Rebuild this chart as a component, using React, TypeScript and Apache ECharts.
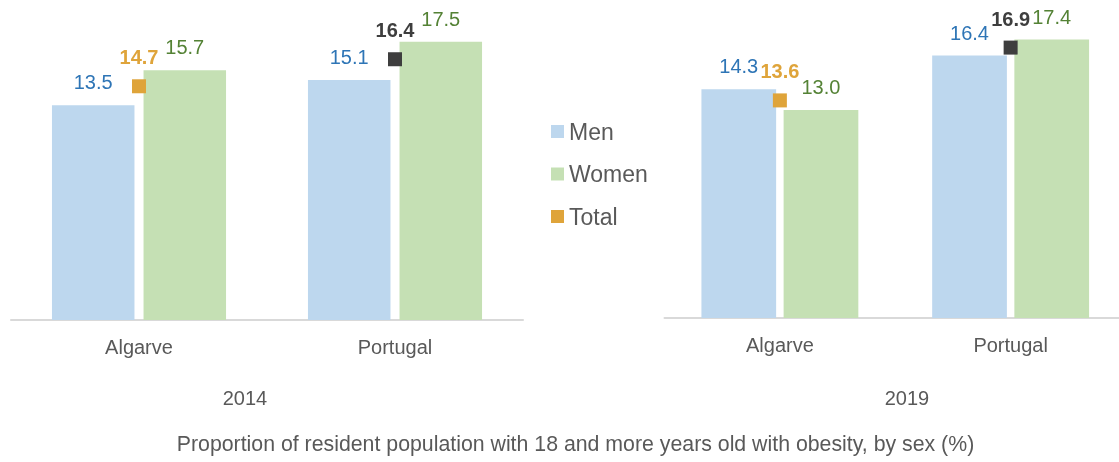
import React, { useEffect, useRef } from "react";
import * as echarts from "echarts";

const categories = ["Algarve", "Portugal"];
const years = ["2014", "2019"];
const men2014 = [13.5, 15.1];
const women2014 = [15.7, 17.5];
const total2014 = [14.7, 16.4];
const men2019 = [14.3, 16.4];
const women2019 = [13.0, 17.4];
const total2019 = [13.6, 16.9];
const seriesNames = ["Men", "Women", "Total"];
const chartTitle =
  "Proportion of resident population with 18 and more years old with obesity, by sex (%)";

const FONT = "'Liberation Sans', Arial, sans-serif";
const GRAY = "#595959";
const MEN_COLOR = "#BDD7EE";
const WOMEN_COLOR = "#C5E0B4";
const MEN_LABEL = "#2E75B6";
const WOMEN_LABEL = "#548235";
const TOTAL_COLORS = ["#DFA43A", "#3E3E3E"];

const fmt = (v: number) => Number(v).toFixed(1);

function App() {
  const ref = useRef<HTMLDivElement>(null);
  useEffect(() => {
    if (!ref.current) return;
    const chart = echarts.init(ref.current, null, { renderer: "svg" });

    const makeBars = (men: number[], women: number[], totals: number[], idx: number, gap: string) => [
      {
        name: seriesNames[0],
        type: "bar",
        xAxisIndex: idx,
        yAxisIndex: idx,
        data: men,
        barGap: gap,
        barCategoryGap: "32%",
        itemStyle: { color: MEN_COLOR },
        label: {
          show: true,
          position: "top",
          distance: 13,
          formatter: (p: any) => fmt(p.value),
          color: MEN_LABEL,
          fontSize: 20,
          fontFamily: FONT,
        },
      },
      {
        name: seriesNames[1],
        type: "bar",
        xAxisIndex: idx,
        yAxisIndex: idx,
        data: women,
        barGap: gap,
        barCategoryGap: "32%",
        itemStyle: { color: WOMEN_COLOR },
        label: {
          show: true,
          position: "top",
          distance: 13,
          formatter: (p: any) => fmt(p.value),
          color: WOMEN_LABEL,
          fontSize: 20,
          fontFamily: FONT,
        },
      },
      {
        name: seriesNames[2],
        type: "scatter",
        xAxisIndex: idx,
        yAxisIndex: idx,
        symbol: "rect",
        symbolSize: 14,
        z: 5,
        itemStyle: { color: TOTAL_COLORS[0], opacity: 1 },
        data: totals.map((v, i) => ({
          value: [categories[i], v],
          itemStyle: { color: TOTAL_COLORS[i], opacity: 1 },
          label: { color: TOTAL_COLORS[i] },
        })),
        label: {
          show: true,
          position: "top",
          distance: 12,
          formatter: (p: any) => fmt(p.value[1]),
          fontSize: 20,
          fontWeight: "bold",
          fontFamily: FONT,
        },
      },
    ];

    const xAxisBase = {
      type: "category",
      data: categories,
      axisTick: { show: false },
      axisLine: { lineStyle: { color: "#D9D9D9", width: 2 } },
      axisLabel: { color: GRAY, fontSize: 20, fontFamily: FONT, margin: 17 },
    };
    const yAxisBase = {
      type: "value",
      min: 0,
      max: 19,
      show: false,
      splitLine: { show: false },
    };

    chart.setOption({
      animation: false,
      textStyle: { fontFamily: FONT },
      grid: [
        { left: 11, width: 512, top: 17.9, height: 302.1 },
        { left: 664.5, width: 461.5, top: 14, height: 304 },
      ],
      xAxis: [
        { ...xAxisBase, gridIndex: 0 },
        { ...xAxisBase, gridIndex: 1 },
      ],
      yAxis: [
        { ...yAxisBase, gridIndex: 0 },
        { ...yAxisBase, gridIndex: 1 },
      ],
      legend: {
        data: seriesNames,
        orient: "vertical",
        left: 546,
        top: 115,
        itemWidth: 13,
        itemHeight: 13,
        itemGap: 19.5,
        itemStyle: { borderWidth: 0, opacity: 1 },
        textStyle: { color: GRAY, fontSize: 23, fontFamily: FONT },
        icon: "rect",
      },
      graphic: [
        {
          type: "text",
          x: 245,
          y: 398,
          style: {
            text: years[0],
            fill: GRAY,
            font: `20px ${FONT}`,
            textAlign: "center",
            textVerticalAlign: "middle",
          },
        },
        {
          type: "text",
          x: 907,
          y: 398,
          style: {
            text: years[1],
            fill: GRAY,
            font: `20px ${FONT}`,
            textAlign: "center",
            textVerticalAlign: "middle",
          },
        },
        {
          type: "text",
          x: 575.5,
          y: 444,
          style: {
            text: chartTitle,
            fill: GRAY,
            font: `21.3px ${FONT}`,
            textAlign: "center",
            textVerticalAlign: "middle",
          },
        },
      ],
      series: [
        ...makeBars(men2014, women2014, total2014, 0, "11%"),
        ...makeBars(men2019, women2019, total2019, 1, "10%"),
      ],
    });
    return () => chart.dispose();
  }, []);
  return (
    <div
      style={{
        position: "fixed",
        left: 0,
        top: 0,
        width: 1119,
        height: 462,
        overflow: "hidden",
      }}
    >
      <div ref={ref} style={{ width: 1130, height: 462 }} />
    </div>
  );
}

export default App;
